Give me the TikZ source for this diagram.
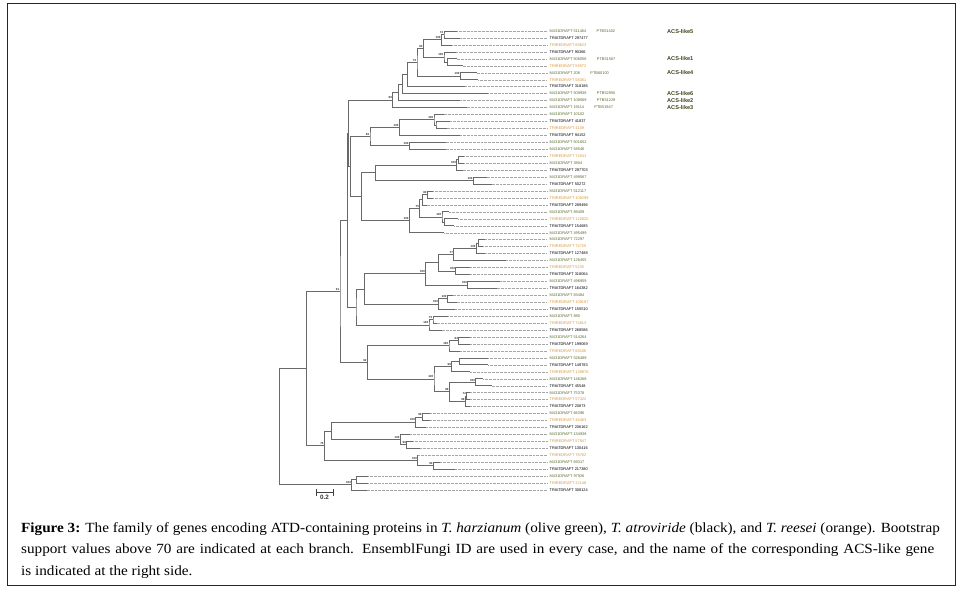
\documentclass[tikz,border=0pt]{standalone}
\usepackage{fontspec}
\setmainfont[FakeStretch=1.085]{Liberation Serif}
\newfontfamily\labfont{Liberation Sans}
\usetikzlibrary{positioning}
\definecolor{harzolive}{RGB}{88,104,44}
\definecolor{reesorange}{RGB}{214,150,60}
\definecolor{branchgrey}{RGB}{105,105,105}
\tikzset{
	branch/.style={draw=branchgrey, line width=0.7pt},
	leader/.style={draw=black!35, line width=0.35pt, densely dotted},
	taxon/.style={anchor=west, inner sep=0pt, font=\labfont\fontsize{3.9}{4}\selectfont},
	harz/.style={taxon, text=harzolive},
	atro/.style={taxon, text=black},
	rees/.style={taxon, text=reesorange},
	ptb/.style={taxon, text=harzolive},
	acs/.style={anchor=west, inner sep=0pt, text=harzolive!70!black, font=\labfont\bfseries\fontsize{5.6}{6}\selectfont},
	boot/.style={anchor=south east, inner sep=0pt, xshift=-0.6pt, yshift=1pt, text=black!80, font=\labfont\bfseries\fontsize{2.9}{3}\selectfont},
}
\newcommand\clade[5]{%
	\path (#3) -- (#4) coordinate[pos=0.5] (#1m);
	\coordinate (#1) at (#2,0 |- #1m);
	\draw[branch] (#3) -| (#1) |- (#4);
	\if\relax\detokenize{#5}\relax\else\node[boot] (#1b) at (#1) {#5};\fi
}
\begin{document}
\begin{tikzpicture}[x=1pt, y=-1pt]
	\def\LeafTop{31}
	\def\LeafStep{6.955}
	\def\LeaderEnd{547}
	\def\LabelX{549.5}
	\useasboundingbox (0,0) rectangle (962,592);
	\draw[line width=0.8pt, black!85] (7.5,3.5) rectangle (955,585);
	\foreach \n/\tx/\spc/\gid in {
		1/457.3/harz/M431DRAFT 511464, 2/460/atro/TRIATDRAFT 297477, 3/452.3/rees/TRIREDRAFT 69623,
		4/456/atro/TRIATDRAFT 90366, 5/456.7/harz/M431DRAFT 506056, 6/462.7/rees/TRIREDRAFT 58572,
		7/476.7/harz/M431DRAFT 206, 8/478.3/rees/TRIREDRAFT 58361, 9/465/atro/TRIATDRAFT 318186,
		10/488.3/harz/M431DRAFT 509938, 11/460/harz/M431DRAFT 108069, 12/466.7/harz/M431DRAFT 19114,
		13/443.7/harz/M431DRAFT 10102, 14/450/atro/TRIATDRAFT 41837, 15/446.7/rees/TRIREDRAFT 4109,
		16/460/atro/TRIATDRAFT 94152, 17/445.7/harz/M431DRAFT 501652, 18/445.7/harz/M431DRAFT 58546,
		19/464.3/rees/TRIREDRAFT 74041, 20/464.3/harz/M431DRAFT 3804, 21/462.7/atro/TRIATDRAFT 297703,
		22/486.7/harz/M431DRAFT 499567, 23/491.7/atro/TRIATDRAFT 50272, 24/433.3/harz/M431DRAFT 512117,
		25/433.3/rees/TRIREDRAFT 108299, 26/426.7/atro/TRIATDRAFT 289496, 27/449/harz/M431DRAFT 89409,
		28/458.3/rees/TRIREDRAFT 122820, 29/454.3/atro/TRIATDRAFT 154685, 30/444.3/harz/M431DRAFT 495499,
		31/485/harz/M431DRAFT 72297, 32/483.3/rees/TRIREDRAFT 74725, 33/485/atro/TRIATDRAFT 127488,
		34/506/harz/M431DRAFT 126455, 35/470/rees/TRIREDRAFT 5235, 36/470/atro/TRIATDRAFT 318064,
		37/500/harz/M431DRAFT 496959, 38/496.7/atro/TRIATDRAFT 164382, 39/452.7/harz/M431DRAFT 83484,
		40/456.7/rees/TRIREDRAFT 109187, 41/455/atro/TRIATDRAFT 150510, 42/448.3/harz/M431DRAFT 880,
		43/436.7/rees/TRIREDRAFT 74813, 44/441.7/atro/TRIATDRAFT 268586, 45/470/harz/M431DRAFT 514264,
		46/470/atro/TRIATDRAFT 199069, 47/460/rees/TRIREDRAFT 68186, 48/488.3/harz/M431DRAFT 526489,
		49/488.3/atro/TRIATDRAFT 149783, 50/470/rees/TRIREDRAFT 139876, 51/483.3/harz/M431DRAFT 146268,
		52/491.7/atro/TRIATDRAFT 45548, 53/470/harz/M431DRAFT 75378, 54/470/rees/TRIREDRAFT 57322,
		55/470/atro/TRIATDRAFT 20873, 56/430/harz/M431DRAFT 66396, 57/430/rees/TRIREDRAFT 46463,
		58/426/atro/TRIATDRAFT 206162, 59/410/harz/M431DRAFT 134938, 60/413.3/rees/TRIREDRAFT 57847,
		61/420/atro/TRIATDRAFT 130416, 62/416.7/rees/TRIREDRAFT 78762, 63/440/harz/M431DRAFT 69317,
		64/455/atro/TRIATDRAFT 217380, 65/368.3/harz/M431DRAFT 97926, 66/368.3/rees/TRIREDRAFT 22148,
		67/366.7/atro/TRIATDRAFT 308124}{
		\coordinate (l\n) at (\tx, {\LeafTop+\LeafStep*(\n-1)});
		\draw[leader] (l\n) -- (\LeaderEnd, {\LeafTop+\LeafStep*(\n-1)});
		\node[\spc] (t\n) at (\LabelX, {\LeafTop+\LeafStep*(\n-1)}) {\gid};
	}
	\node[ptb, right=10pt of t1] (p1) {PTB51402};
	\node[ptb, right=10pt of t5] (p5) {PTB51567};
	\node[ptb, right=10pt of t7] (p7) {PTB60100};
	\node[ptb, right=10pt of t10] (p10) {PTB52950};
	\node[ptb, right=10pt of t11] (p11) {PTB51229};
	\node[ptb, right=10pt of t12] (p12) {PTB51947};
	\node[acs] (acs5) at (667,0 |- t1) {ACS-like5};
	\node[acs] (acs1) at (667,0 |- t5) {ACS-like1};
	\node[acs] (acs4) at (667,0 |- t7) {ACS-like4};
	\node[acs] (acs6) at (667,0 |- t10) {ACS-like6};
	\node[acs] (acs2) at (667,0 |- t11) {ACS-like2};
	\node[acs] (acs3) at (667,0 |- t12) {ACS-like3};
	\clade{A}{444}{l1}{l2}{72}
	\clade{B}{441.3}{A}{l3}{100}
	\clade{E}{447.7}{l5}{l6}{}
	\clade{D}{444}{l4}{E}{100}
	\clade{C}{423.3}{B}{D}{84}
	\clade{G}{460.3}{l7}{l8}{100}
	\clade{F}{417}{C}{G}{75}
	\clade{H}{407.3}{F}{l9}{}
	\clade{I}{402.3}{H}{l10}{}
	\clade{J}{398.3}{I}{l11}{}
	\clade{K}{392.7}{J}{l12}{99}
	\clade{N1}{436}{l14}{l15}{}
	\clade{N}{434}{l13}{N1}{100}
	\clade{O}{399.3}{N}{l16}{100}
	\clade{Q}{409.3}{l17}{l18}{100}
	\clade{P}{370}{O}{Q}{96}
	\clade{S1}{458.3}{l19}{l20}{}
	\clade{S}{456.7}{S1}{l21}{100}
	\clade{T}{473.3}{l22}{l23}{100}
	\clade{U}{375.3}{S}{T}{}
	\clade{V1}{427.3}{l24}{l25}{80}
	\clade{V1a}{422.7}{V1}{l26}{}
	\clade{W1}{444.3}{l28}{l29}{}
	\clade{W}{442}{l27}{W1}{100}
	\clade{V2}{419.7}{V1a}{W}{75}
	\clade{X}{409.3}{V2}{l30}{100}
	\clade{Y}{361.3}{U}{X}{}
	\clade{Z1a}{478.3}{l31}{l32}{}
	\clade{Z1}{476.3}{Z1a}{l33}{100}
	\clade{Z2}{453.7}{Z1}{l34}{77}
	\clade{Z3}{455.7}{l35}{l36}{100}
	\clade{Z4}{438.7}{Z2}{Z3}{}
	\clade{Z5}{467.7}{l37}{l38}{100}
	\clade{Z6}{425.7}{Z4}{Z5}{100}
	\clade{Z7a}{447.3}{l39}{l40}{100}
	\clade{Z7}{438.7}{Z7a}{l41}{100}
	\clade{Z8}{364.7}{Z6}{Z7}{}
	\clade{Z10a}{433}{l42}{l43}{75}
	\clade{Z10}{429}{Z10a}{l44}{100}
	\clade{Z9}{356}{Z8}{Z10}{}
	\clade{n1}{350.3}{P}{Y}{}
	\clade{n2}{348.3}{K}{n1}{}
	\clade{n3}{347.3}{n2}{Z9}{}
	\clade{D1}{458.7}{l45}{l46}{84}
	\clade{D2}{449}{D1}{l47}{100}
	\clade{D3a}{459.3}{l48}{l49}{}
	\clade{D3}{451.7}{D3a}{l50}{99}
	\clade{D4}{475.7}{l51}{l52}{100}
	\clade{D5a}{466.7}{l53}{l54}{72}
	\clade{D5b}{465.3}{D5a}{l55}{99}
	\clade{D6}{449.3}{D4}{D5b}{88}
	\clade{D7}{434}{D3}{D6}{100}
	\clade{D8}{367.3}{D2}{D7}{92}
	\clade{CC}{340}{n3}{D8}{91}
	\clade{F1a}{422.3}{l56}{l57}{98}
	\clade{F1}{415.7}{F1a}{l58}{100}
	\clade{F2a}{406.7}{l60}{l61}{99}
	\clade{F2}{400.3}{l59}{F2a}{100}
	\clade{F3}{331.7}{F1}{F2}{}
	\clade{F4a}{433.3}{l63}{l64}{94}
	\clade{F4}{417.7}{l62}{F4a}{100}
	\clade{E1}{324.3}{F3}{F4}{75}
	\clade{EE}{306.7}{CC}{E1}{}
	\clade{G1a}{356.7}{l65}{l66}{}
	\clade{G1}{351.7}{G1a}{l67}{100}
	\clade{R}{279.3}{EE}{G1}{}
	\coordinate (sb1) at (315.7,492.3);
	\coordinate (sb2) at (333.3,492.3);
	\draw[|-|, line width=0.8pt, black!75] (sb1) -- (sb2);
	\node[anchor=north, inner sep=0pt, text=black!80, font=\labfont\bfseries\fontsize{6.3}{7}\selectfont] (sblab) at (324.5,495) {0.2};
	\node[anchor=north west, align=left, inner sep=0pt, font=\fontsize{14}{21.5}\selectfont] (caption) at (21,522)
		{\textbf{Figure 3:} The family of genes encoding ATD-containing proteins in \textit{T. harzianum} (olive green), \textit{T. atroviride} (black), and \textit{T. reesei} (orange). Bootstrap\\
		\makebox[913pt][s]{support values above 70 are indicated at each branch. EnsemblFungi ID are used in every case, and the name of the corresponding ACS-like gene}\\
		is indicated at the right side.};
\end{tikzpicture}
\end{document}
